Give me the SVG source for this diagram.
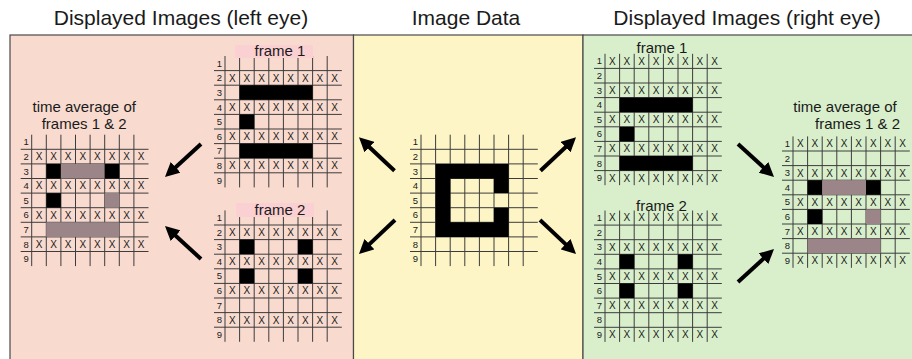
<svg xmlns="http://www.w3.org/2000/svg" width="912" height="359" viewBox="0 0 912 359">
  <style>
    text { font-family: "Liberation Sans", Arial, sans-serif; fill: #1a1a1a; }
    .hdr { font-size: 21px; text-anchor: middle; }
    .ttl { font-size: 15px; text-anchor: middle; }
    .lbl { font-size: 9.5px; text-anchor: middle; }
    .xm { font-size: 10px; text-anchor: middle; }
    .gl { stroke: #3c3c3c; stroke-width: 1; fill: none; }
    .blk { fill: #000; }
    .gry { fill: #9b8589; }
    .panel { stroke: #4a4a4a; stroke-width: 1.2; }
    .arrow { stroke: #000; stroke-width: 4; fill: none; marker-end: url(#head); }
  </style>
  <defs>
    <marker id="head" viewBox="0 0 10 10" refX="3" refY="5" markerWidth="3.6" markerHeight="3.6" orient="auto" markerUnits="strokeWidth">
      <path d="M0,0 L10,5 L0,10 z" fill="#000"/>
    </marker>
    <!-- 9 x 8 cell grid, local origin at top-left of column 1 / row 1, cell 14.6 -->
    <g id="grid">
      <path class="gl" d="M0,0V131.4M14.6,0V131.4M29.2,0V131.4M43.8,0V131.4M58.4,0V131.4M73,0V131.4M87.6,0V131.4M102.2,0V131.4"/>
      <path class="gl" d="M-11,14.6H116.8M-11,29.2H116.8M-11,43.8H116.8M-11,58.4H116.8M-11,73H116.8M-11,87.6H116.8M-11,102.2H116.8M-11,116.8H116.8"/>
      <text class="lbl" x="-5.5" y="10.7">1</text>
      <text class="lbl" x="-5.5" y="25.3">2</text>
      <text class="lbl" x="-5.5" y="39.9">3</text>
      <text class="lbl" x="-5.5" y="54.5">4</text>
      <text class="lbl" x="-5.5" y="69.1">5</text>
      <text class="lbl" x="-5.5" y="83.7">6</text>
      <text class="lbl" x="-5.5" y="98.3">7</text>
      <text class="lbl" x="-5.5" y="112.9">8</text>
      <text class="lbl" x="-5.5" y="127.5">9</text>
    </g>
    <!-- a row of X marks, y=0 is the row centre -->
    <g id="xrow">
      <text class="xm" x="7.3" y="3.6">X</text>
      <text class="xm" x="21.9" y="3.6">X</text>
      <text class="xm" x="36.5" y="3.6">X</text>
      <text class="xm" x="51.1" y="3.6">X</text>
      <text class="xm" x="65.7" y="3.6">X</text>
      <text class="xm" x="80.3" y="3.6">X</text>
      <text class="xm" x="94.9" y="3.6">X</text>
      <text class="xm" x="109.5" y="3.6">X</text>
    </g>
    <!-- X marks on even rows (left eye) and odd rows (right eye) -->
    <g id="xeven">
      <use href="#xrow" y="21.9"/>
      <use href="#xrow" y="51.1"/>
      <use href="#xrow" y="80.3"/>
      <use href="#xrow" y="109.5"/>
    </g>
    <g id="xodd">
      <use href="#xrow" y="7.3"/>
      <use href="#xrow" y="36.5"/>
      <use href="#xrow" y="65.7"/>
      <use href="#xrow" y="94.9"/>
      <use href="#xrow" y="124.1"/>
    </g>
  </defs>

  <rect width="912" height="359" fill="#ffffff"/>

  <!-- headers -->
  <text class="hdr" x="181" y="25">Displayed Images (left eye)</text>
  <text class="hdr" x="466" y="25">Image Data</text>
  <text class="hdr" x="747" y="25">Displayed Images (right eye)</text>

  <!-- panels -->
  <rect class="panel" x="10" y="35" width="343.5" height="330" fill="#f9dacf"/>
  <rect class="panel" x="353.5" y="35" width="229.5" height="330" fill="#fdf5c5"/>
  <rect class="panel" x="583" y="35" width="340" height="330" fill="#d9efcc"/>

  <!-- left eye: frame 1 -->
  <g id="left-frame1" transform="translate(225,56)">
    <use href="#grid"/>
    <rect class="blk" x="14.6" y="29.2" width="73" height="14.6"/>
    <rect class="blk" x="14.6" y="58.4" width="14.6" height="14.6"/>
    <rect class="blk" x="14.6" y="87.6" width="73" height="14.6"/>
    <use href="#xeven"/>
    <rect x="10" y="-11" width="78" height="13" fill="#fbd0d3"/>
    <text class="ttl" x="55" y="0">frame 1</text>
  </g>

  <!-- left eye: frame 2 -->
  <g id="left-frame2" transform="translate(225,210.4)">
    <use href="#grid"/>
    <rect class="blk" x="14.6" y="29.2" width="14.6" height="14.6"/>
    <rect class="blk" x="73" y="29.2" width="14.6" height="14.6"/>
    <rect class="blk" x="14.6" y="58.4" width="14.6" height="14.6"/>
    <rect class="blk" x="73" y="58.4" width="14.6" height="14.6"/>
    <use href="#xeven"/>
    <rect x="11" y="-7.4" width="78" height="14" fill="#fbd0d3"/>
    <text class="ttl" x="55" y="4.6">frame 2</text>
  </g>

  <!-- left eye: time average -->
  <g id="left-average" transform="translate(31.7,134.7)">
    <text class="ttl" x="52.5" y="-22.5">time average of</text>
    <text class="ttl" x="52.5" y="-6.2">frames 1 &amp; 2</text>
    <use href="#grid"/>
    <rect class="blk" x="14.6" y="29.2" width="14.6" height="14.6"/>
    <rect class="gry" x="29.2" y="29.2" width="43.8" height="14.6"/>
    <rect class="blk" x="73" y="29.2" width="14.6" height="14.6"/>
    <rect class="blk" x="14.6" y="58.4" width="14.6" height="14.6"/>
    <rect class="gry" x="73" y="58.4" width="14.6" height="14.6"/>
    <rect class="gry" x="14.6" y="87.6" width="73" height="14.6"/>
    <use href="#xeven"/>
  </g>

  <!-- image data -->
  <g id="image-data" transform="translate(421,134.7)">
    <use href="#grid"/>
    <path class="blk" d="M14.6,29.2H87.6V58.4H73V43.8H29.2V87.6H73V73H87.6V102.2H14.6Z"/>
  </g>

  <!-- right eye: frame 1 -->
  <g id="right-frame1" transform="translate(605,53.8)">
    <text class="ttl" x="57" y="-0.8">frame 1</text>
    <use href="#grid"/>
    <rect class="blk" x="14.6" y="43.8" width="73" height="14.6"/>
    <rect class="blk" x="14.6" y="73" width="14.6" height="14.6"/>
    <rect class="blk" x="14.6" y="102.2" width="73" height="14.6"/>
    <use href="#xodd"/>
  </g>

  <!-- right eye: frame 2 -->
  <g id="right-frame2" transform="translate(605,210.5)">
    <text class="ttl" x="56.5" y="0.5">frame 2</text>
    <use href="#grid"/>
    <rect class="blk" x="14.6" y="43.8" width="14.6" height="14.6"/>
    <rect class="blk" x="73" y="43.8" width="14.6" height="14.6"/>
    <rect class="blk" x="14.6" y="73" width="14.6" height="14.6"/>
    <rect class="blk" x="73" y="73" width="14.6" height="14.6"/>
    <use href="#xodd"/>
  </g>

  <!-- right eye: time average -->
  <g id="right-average" transform="translate(793,136.4)">
    <text class="ttl" x="52" y="-24">time average of</text>
    <text class="ttl" x="64.5" y="-7.5">frames 1 &amp; 2</text>
    <use href="#grid"/>
    <rect class="blk" x="14.6" y="43.8" width="14.6" height="14.6"/>
    <rect class="gry" x="29.2" y="43.8" width="43.8" height="14.6"/>
    <rect class="blk" x="73" y="43.8" width="14.6" height="14.6"/>
    <rect class="blk" x="14.6" y="73" width="14.6" height="14.6"/>
    <rect class="gry" x="73" y="73" width="14.6" height="14.6"/>
    <rect class="gry" x="14.6" y="102.2" width="73" height="14.6"/>
    <use href="#xodd"/>
  </g>

  <!-- connectors -->
  <g id="connectors">
    <line class="arrow" x1="201" y1="144" x2="172.4" y2="170.2"/>
    <line class="arrow" x1="201" y1="259" x2="172.4" y2="232.8"/>
    <line class="arrow" x1="394.5" y1="170.7" x2="366.3" y2="144.2"/>
    <line class="arrow" x1="395" y1="220" x2="366.3" y2="247.1"/>
    <line class="arrow" x1="540.5" y1="170.7" x2="568.7" y2="144.2"/>
    <line class="arrow" x1="540" y1="220" x2="568.7" y2="247.1"/>
    <line class="arrow" x1="738" y1="144" x2="766.6" y2="170.2"/>
    <line class="arrow" x1="738" y1="282" x2="766.6" y2="255.8"/>
  </g>
</svg>
